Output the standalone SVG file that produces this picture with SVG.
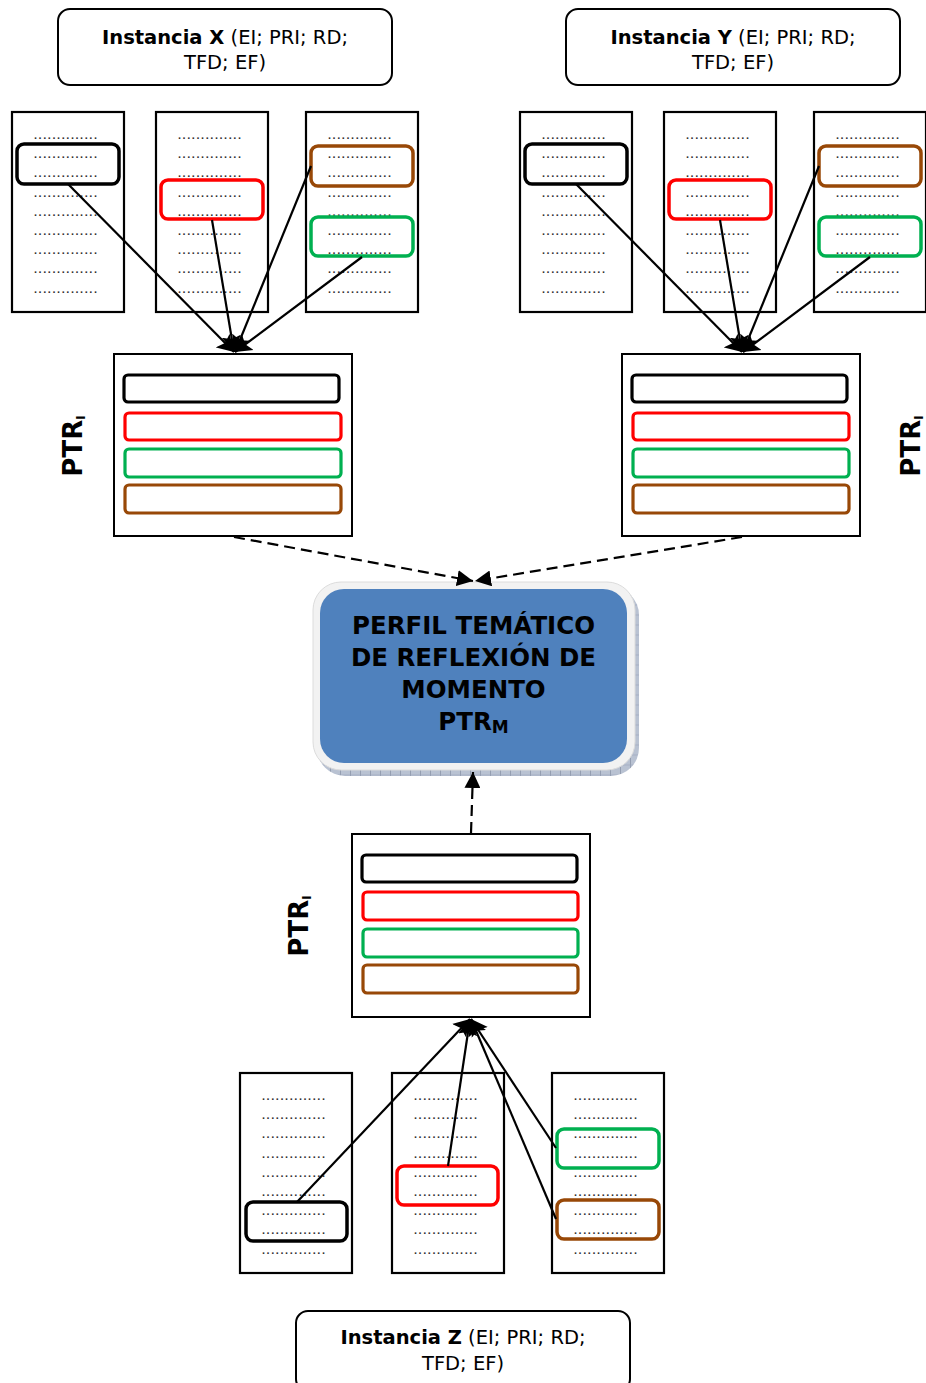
<svg xmlns="http://www.w3.org/2000/svg" xmlns:xlink="http://www.w3.org/1999/xlink" width="926" height="1383" viewBox="0 0 926 1383">
  <style>
    .inst { fill: #ffffff; stroke: #000; stroke-width: 2; }
    .inst-t { font-family: "DejaVu Sans", "Liberation Sans", sans-serif; font-size: 19.5px; fill: #000; text-anchor: middle; }
    .b { font-weight: bold; }
    .col { fill: #ffffff; stroke: #000; stroke-width: 2.2; }
    .dots { font-family: "Liberation Sans", sans-serif; font-size: 11px; font-weight: bold; fill: #333; }
    .hl { fill: none; stroke-width: 3.5; }
    .k { stroke: #000; }
    .r { stroke: #ff0000; }
    .g { stroke: #00b050; }
    .br { stroke: #984807; }
    .ptr { fill: #ffffff; stroke: #000; stroke-width: 2; }
    .bar { fill: none; stroke-width: 3.2; }
    .lbl { font-family: "DejaVu Sans", "Liberation Sans", sans-serif; font-size: 26px; font-weight: bold; fill: #000; text-anchor: middle; }
    .ctr { font-family: "DejaVu Sans", "Liberation Sans", sans-serif; font-size: 24.5px; font-weight: bold; fill: #000; text-anchor: middle; }
    .link { stroke: #000; stroke-width: 2.2; fill: none; marker-end: url(#ah); }
    .dash { stroke: #000; stroke-width: 2.2; fill: none; stroke-dasharray: 11 6; marker-end: url(#ahd); }
  </style>
  <defs>
    <marker id="ah" viewBox="0 0 10 12" refX="10" refY="6" markerWidth="16" markerHeight="20" markerUnits="userSpaceOnUse" orient="auto">
      <path d="M0,0 L10,6 L0,12 L2,6 z" fill="#000"/>
    </marker>
    <marker id="ahd" viewBox="0 0 10 10" refX="10" refY="5" markerWidth="16" markerHeight="16" markerUnits="userSpaceOnUse" orient="auto">
      <path d="M0,0 L10,5 L0,10 z" fill="#000"/>
    </marker>
    <pattern id="hatch" width="10" height="10" patternUnits="userSpaceOnUse">
      <rect width="10" height="10" fill="#b9c2d2"/>
      <path d="M0,0 V10" stroke="#6f7a90" stroke-width="1"/>
      <path d="M0,5 H10" stroke="#9aa5ba" stroke-width="0.6"/>
    </pattern>
    <!-- one document column: nine rows of dotted lines -->
    <g id="dots" class="dots">
      <text x="22" y="26.5" textLength="63" lengthAdjust="spacing">..............</text>
      <text x="22" y="45.5" textLength="63" lengthAdjust="spacing">..............</text>
      <text x="22" y="65" textLength="63" lengthAdjust="spacing">..............</text>
      <text x="22" y="84.5" textLength="63" lengthAdjust="spacing">..............</text>
      <text x="22" y="103.5" textLength="63" lengthAdjust="spacing">..............</text>
      <text x="22" y="122.5" textLength="63" lengthAdjust="spacing">..............</text>
      <text x="22" y="142" textLength="63" lengthAdjust="spacing">..............</text>
      <text x="22" y="161" textLength="63" lengthAdjust="spacing">..............</text>
      <text x="22" y="180.5" textLength="63" lengthAdjust="spacing">..............</text>
    </g>
  </defs>

  <rect width="926" height="1383" fill="#ffffff"/>

  <!-- ===== Instance X ===== -->
  <g id="instancia-x">
    <rect class="inst" x="58" y="9" width="334" height="76" rx="12"/>
    <text class="inst-t" x="225" y="43.5"><tspan class="b">Instancia X</tspan> (EI; PRI; RD;</text>
    <text class="inst-t" x="225" y="69">TFD; EF)</text>
  </g>
  <g id="docs-x">
    <rect class="col" x="12" y="112" width="112" height="200"/>
    <use xlink:href="#dots" x="12" y="112"/>
    <rect class="hl k" x="17" y="144" width="102" height="40" rx="7"/>
    <rect class="col" x="156" y="112" width="112" height="200"/>
    <use xlink:href="#dots" x="156" y="112"/>
    <rect class="hl r" x="161" y="180" width="102" height="39" rx="7"/>
    <rect class="col" x="306" y="112" width="112" height="200"/>
    <use xlink:href="#dots" x="306" y="112"/>
    <rect class="hl br" x="311" y="146" width="102" height="40" rx="7"/>
    <rect class="hl g" x="311" y="217" width="102" height="39" rx="7"/>
  </g>
  <g id="ptr-x">
    <rect class="ptr" x="114" y="354" width="238" height="182"/>
    <rect class="bar k" x="124" y="375" width="215" height="27" rx="4"/>
    <rect class="bar r" x="125" y="413" width="216" height="27" rx="4"/>
    <rect class="bar g" x="125" y="449" width="216" height="28" rx="4"/>
    <rect class="bar br" x="125" y="485" width="216" height="28" rx="4"/>
    <text class="lbl" transform="translate(82,446) rotate(-90)">PTR<tspan font-size="12" dy="3">I</tspan></text>
  </g>

  <!-- ===== Instance Y ===== -->
  <g id="instancia-y">
    <rect class="inst" x="566" y="9" width="334" height="76" rx="12"/>
    <text class="inst-t" x="733" y="43.5"><tspan class="b">Instancia Y</tspan> (EI; PRI; RD;</text>
    <text class="inst-t" x="733" y="69">TFD; EF)</text>
  </g>
  <g id="docs-y">
    <rect class="col" x="520" y="112" width="112" height="200"/>
    <use xlink:href="#dots" x="520" y="112"/>
    <rect class="hl k" x="525" y="144" width="102" height="40" rx="7"/>
    <rect class="col" x="664" y="112" width="112" height="200"/>
    <use xlink:href="#dots" x="664" y="112"/>
    <rect class="hl r" x="669" y="180" width="102" height="39" rx="7"/>
    <rect class="col" x="814" y="112" width="112" height="200"/>
    <use xlink:href="#dots" x="814" y="112"/>
    <rect class="hl br" x="819" y="146" width="102" height="40" rx="7"/>
    <rect class="hl g" x="819" y="217" width="102" height="39" rx="7"/>
  </g>
  <g id="ptr-y">
    <rect class="ptr" x="622" y="354" width="238" height="182"/>
    <rect class="bar k" x="632" y="375" width="215" height="27" rx="4"/>
    <rect class="bar r" x="633" y="413" width="216" height="27" rx="4"/>
    <rect class="bar g" x="633" y="449" width="216" height="28" rx="4"/>
    <rect class="bar br" x="633" y="485" width="216" height="28" rx="4"/>
    <text class="lbl" transform="translate(920,446) rotate(-90)">PTR<tspan font-size="12" dy="3">I</tspan></text>
  </g>

  <!-- ===== Moment profile ===== -->
  <g id="perfil-momento">
    <rect x="317" y="587" width="322" height="189" rx="28" fill="url(#hatch)"/>
    <rect x="313" y="582" width="322" height="188" rx="28" fill="#f2f2f2" stroke="#dcdcdc" stroke-width="1"/>
    <rect x="320" y="589" width="307" height="174" rx="24" fill="#4f81bd"/>
    <text class="ctr" x="473.5" y="634">PERFIL TEMÁTICO</text>
    <text class="ctr" x="473.5" y="666">DE REFLEXIÓN DE</text>
    <text class="ctr" x="473.5" y="698">MOMENTO</text>
    <text class="ctr" x="473.5" y="730">PTR<tspan font-size="17" dy="3">M</tspan></text>
  </g>

  <!-- ===== Instance Z ===== -->
  <g id="ptr-z">
    <rect class="ptr" x="352" y="834" width="238" height="183"/>
    <rect class="bar k" x="362" y="855" width="215" height="27" rx="4"/>
    <rect class="bar r" x="363" y="892" width="215" height="28" rx="4"/>
    <rect class="bar g" x="363" y="929" width="215" height="28" rx="4"/>
    <rect class="bar br" x="363" y="965" width="215" height="28" rx="4"/>
    <text class="lbl" transform="translate(308,926) rotate(-90)">PTR<tspan font-size="12" dy="3">I</tspan></text>
  </g>
  <g id="docs-z">
    <rect class="col" x="240" y="1073" width="112" height="200"/>
    <use xlink:href="#dots" x="240" y="1073"/>
    <rect class="hl k" x="246" y="1202" width="101" height="39" rx="7"/>
    <rect class="col" x="392" y="1073" width="112" height="200"/>
    <use xlink:href="#dots" x="392" y="1073"/>
    <rect class="hl r" x="397" y="1166" width="101" height="39" rx="7"/>
    <rect class="col" x="552" y="1073" width="112" height="200"/>
    <use xlink:href="#dots" x="552" y="1073"/>
    <rect class="hl g" x="557" y="1129" width="102" height="39" rx="7"/>
    <rect class="hl br" x="557" y="1200" width="102" height="39" rx="7"/>
  </g>
  <g id="instancia-z">
    <rect class="inst" x="296" y="1311" width="334" height="80" rx="12"/>
    <text class="inst-t" x="463" y="1344"><tspan class="b">Instancia Z</tspan> (EI; PRI; RD;</text>
    <text class="inst-t" x="463" y="1369.5">TFD; EF)</text>
  </g>

  <!-- ===== Connectors ===== -->
  <g id="connectors">
    <line class="link" x1="68" y1="184" x2="234" y2="352"/>
    <line class="link" x1="212" y1="220" x2="234" y2="352"/>
    <line class="link" x1="311" y1="166" x2="235" y2="352"/>
    <line class="link" x1="362" y1="257" x2="235" y2="352"/>

    <line class="link" x1="576" y1="184" x2="742" y2="352"/>
    <line class="link" x1="720" y1="220" x2="742" y2="352"/>
    <line class="link" x1="819" y1="166" x2="743" y2="352"/>
    <line class="link" x1="870" y1="257" x2="743" y2="352"/>

    <line class="link" x1="297" y1="1202" x2="470" y2="1019"/>
    <line class="link" x1="448" y1="1166" x2="470" y2="1019"/>
    <line class="link" x1="556" y1="1148" x2="471" y2="1019"/>
    <line class="link" x1="556" y1="1219" x2="471" y2="1019"/>

    <line class="dash" x1="234" y1="537" x2="473" y2="581"/>
    <line class="dash" x1="742" y1="537" x2="475" y2="581"/>
    <line class="dash" x1="471" y1="833" x2="473" y2="772"/>
  </g>
</svg>
